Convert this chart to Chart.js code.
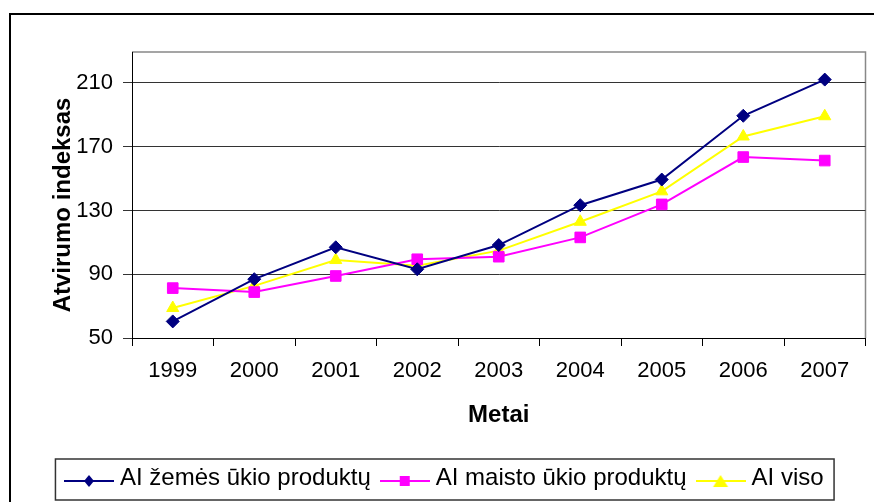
<!DOCTYPE html>
<html>
<head>
<meta charset="utf-8">
<script src="https://cdn.jsdelivr.net/npm/chart.js@4"></script>
<style>
  html, body { margin: 0; background: #fff; }
  #wrap { width: 874px; height: 502px; }
</style>
</head>
<body>
<div id="wrap"><canvas id="chart" width="874" height="502"></canvas></div>
<script>
// data
const years = ['1999', '2000', '2001', '2002', '2003', '2004', '2005', '2006', '2007'];
const aiZemes = [60.4, 86.9, 106.9, 93.1, 108.3, 133.3, 149.4, 189.4, 212.1];
const aiMaisto = [81.3, 78.8, 88.9, 99.4, 101.0, 113.1, 133.8, 163.5, 161.3];
const aiViso = [68.8, 82.7, 98.9, 95.4, 104.8, 122.9, 142.0, 176.4, 189.1];
const yTicks = [50, 90, 130, 170, 210];
const seriesNames = ['AI žemės ūkio produktų', 'AI maisto ūkio produktų', 'AI viso'];

const FONT = "'Liberation Sans', Arial, sans-serif";

// little line+marker pictures for the legend
function legendIcon(color, shape) {
  const c = document.createElement('canvas');
  c.width = 50; c.height = 22;
  const g = c.getContext('2d');
  g.strokeStyle = color; g.lineWidth = 2;
  g.beginPath(); g.moveTo(0, 14); g.lineTo(50, 14); g.stroke();
  g.fillStyle = color;
  g.beginPath();
  if (shape === 'diamond') {
    g.moveTo(25, 8); g.lineTo(30, 14); g.lineTo(25, 20); g.lineTo(20, 14);
  } else if (shape === 'square') {
    g.rect(20, 9, 10, 10);
  } else {
    g.moveTo(25, 8); g.lineTo(32.5, 20); g.lineTo(17.5, 20);
  }
  g.closePath(); g.fill();
  return c;
}
const icons = [legendIcon('#000080', 'diamond'), legendIcon('#FF00FF', 'square'), legendIcon('#FFFF00', 'triangle')];

// outer frame, plot frame and legend box
const frames = {
  id: 'frames',
  beforeDraw(chart) {
    const {ctx, chartArea: a} = chart;
    ctx.save();
    ctx.strokeStyle = '#000'; ctx.lineWidth = 2;
    ctx.strokeRect(10, 14, 1000, 1000);
    ctx.strokeStyle = '#888'; ctx.lineWidth = 1.5;
    ctx.beginPath();
    ctx.moveTo(a.left, a.top); ctx.lineTo(a.right, a.top); ctx.lineTo(a.right, a.bottom);
    ctx.stroke();
    ctx.restore();
  },
  afterDraw(chart) {
    const L = chart.legend;
    const p = L.options.labels.padding;
    const start = (L.left + p + L.right - L.lineWidths[0]) / 2;
    const end = start + L.lineWidths[0] - p;
    const cy = L.top + p + 12;
    const ctx = chart.ctx;
    ctx.save();
    ctx.strokeStyle = '#333'; ctx.lineWidth = 1.5;
    ctx.strokeRect(start - 14.5, cy - 19, end - start + 25, 41);
    ctx.restore();
  }
};

const mk = (label, data, color, style, r) => ({
  label, data,
  borderColor: color, backgroundColor: color,
  borderWidth: 2,
  pointStyle: style, pointRadius: r, pointHoverRadius: r,
  pointBackgroundColor: color, pointBorderColor: color, pointBorderWidth: 1,
  tension: 0
});

new Chart(document.getElementById('chart'), {
  type: 'line',
  data: {
    labels: years,
    datasets: [
      mk(seriesNames[0], aiZemes, '#000080', 'rectRot', 6.5),
      mk(seriesNames[1], aiMaisto, '#FF00FF', 'rect', 7.5),
      mk(seriesNames[2], aiViso, '#FFFF00', 'triangle', 7)
    ]
  },
  options: {
    responsive: false,
    animation: false,
    layout: { padding: { left: 27.5, right: 8, top: 52, bottom: 2 } },
    plugins: {
      tooltip: { enabled: false },
      legend: {
        position: 'bottom',
        labels: {
          usePointStyle: true,
          pointStyleWidth: 38,
          padding: 15,
          color: '#000',
          font: { family: FONT, size: 24 },
          generateLabels: chart => chart.data.datasets.map((ds, i) => ({
            text: ds.label, pointStyle: icons[i], datasetIndex: i,
            fillStyle: ds.borderColor, strokeStyle: ds.borderColor, lineWidth: 0, hidden: false
          }))
        }
      }
    },
    scales: {
      x: {
        offset: true,
        grid: { offset: true, drawOnChartArea: false, drawTicks: true, tickLength: 8, color: '#000' },
        border: { color: '#000', width: 1 },
        ticks: { color: '#000', font: { family: FONT, size: 22 }, padding: 12, maxRotation: 0, autoSkip: false },
        title: { display: true, text: 'Metai', color: '#000', font: { family: FONT, size: 24, weight: 'bold' }, padding: { top: 0, bottom: 21.6 } },
        afterFit: s => { s.height = 113; }
      },
      y: {
        min: 50,
        max: 229.4,
        afterBuildTicks: s => { s.ticks = yTicks.map(v => ({ value: v })); },
        grid: { color: '#333', tickLength: 9, drawTicks: true },
        border: { color: '#000', width: 1 },
        ticks: { color: '#000', font: { family: FONT, size: 22 }, padding: 10 },
        title: { display: true, text: 'Atvirumo indeksas   ', color: '#000', font: { family: FONT, size: 24, weight: 'bold' }, padding: { top: 21, bottom: 0 } },
        afterFit: s => { s.width = 104.5; }
      }
    }
  },
  plugins: [frames]
});
</script>
</body>
</html>
